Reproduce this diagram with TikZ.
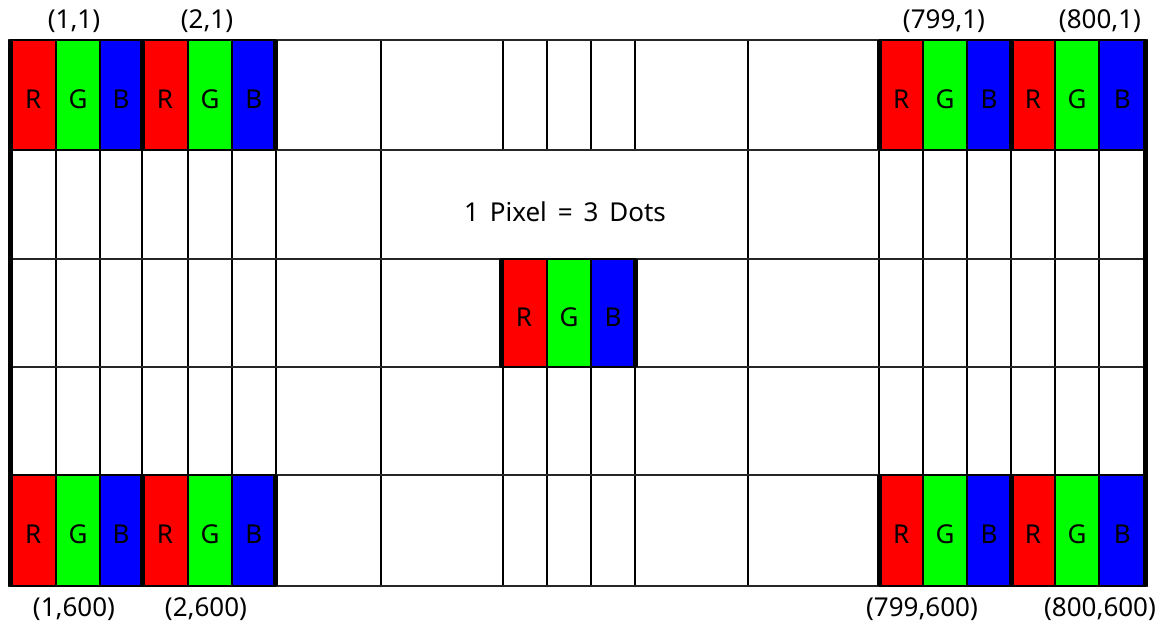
\documentclass[tikz,border=0pt]{standalone}
\usepackage{fontspec}
\setmainfont{Noto Sans}
\definecolor{pxred}{RGB}{255,0,0}
\definecolor{pxgreen}{RGB}{0,255,0}
\definecolor{pxblue}{RGB}{0,0,255}
\begin{document}
\begin{tikzpicture}[x=1pt,y=-1pt,
  gridline/.style={line width=1.7pt, black},
  rowline/.style={line width=1.3pt, black!85},
  edgeline/.style={line width=5pt, black},
  sub/.style={draw=black, line width=1.4pt, inner sep=0pt, outer sep=0pt},
  lbl/.style={font=\fontsize{26}{31}\selectfont, inner sep=0pt, text=black}]
\useasboundingbox (0,0) rectangle (1166,625);
\fill[white] (0,0) rectangle (1166,625);

% vertical grid lines running through all five rows
\foreach \x in {56,100,142,188,232,276,381,748,879,923,967,1011,1055,1099}
  \draw[gridline] (\x,40) -- (\x,586);
% the centre columns are interrupted by the caption row
\foreach \x in {503,547,591,635} {
  \draw[gridline] (\x,40) -- (\x,150);
  \draw[gridline] (\x,259) -- (\x,586);
}
% horizontal row separators
\foreach \y in {40,150,259,367,475,586}
  \draw[rowline] (8,\y) -- (1148,\y);

% RGB pixels: name / x positions of the dot borders / top and bottom
\foreach \nm/\xa/\xb/\xc/\xd/\ya/\yb in {
    ptl/10.5/56/100/142/40/150,
    pta/142/188/232/275.5/40/150,
    ptb/879.5/923/967/1011/40/150,
    ptr/1011/1055/1099/1145.5/40/150,
    pbl/10.5/56/100/142/475/586,
    pba/142/188/232/275.5/475/586,
    pbb/879.5/923/967/1011/475/586,
    pbr/1011/1055/1099/1145.5/475/586,
    pmid/501/547/591/635/259/367} {
  \node[sub, fill=pxred, minimum width={(\xb-\xa)*1pt}, minimum height={(\yb-\ya)*1pt}]
    (\nm-r) at ({(\xa+\xb)/2},{(\ya+\yb)/2}) {};
  \node[sub, fill=pxgreen, minimum width={(\xc-\xb)*1pt}, minimum height={(\yb-\ya)*1pt}]
    (\nm-g) at ({(\xb+\xc)/2},{(\ya+\yb)/2}) {};
  \node[sub, fill=pxblue, minimum width={(\xd-\xc)*1pt}, minimum height={(\yb-\ya)*1pt}]
    (\nm-b) at ({(\xc+\xd)/2},{(\ya+\yb)/2}) {};
  \node[lbl] at ([yshift=-4pt]\nm-r.center) {R};
  \node[lbl] at ([yshift=-4pt]\nm-g.center) {G};
  \node[lbl] at ([yshift=-4pt]\nm-b.center) {B};
  \draw[edgeline] (\xa,\ya) -- (\xa,\yb);
  \draw[edgeline] (\xd,\ya) -- (\xd,\yb);
}

% thick outer frame edges
\draw[edgeline] (10.5,40) -- (10.5,586);
\draw[edgeline] (1145.5,40) -- (1145.5,586);

% caption
\node[lbl] (caption) at (565,211.5)
  {1\hspace{0.42em}Pixel\hspace{0.42em}=\hspace{0.42em}3\hspace{0.42em}Dots};

% pixel coordinates
\node[lbl] (c11) at (74,21.5) {(1,1)};
\node[lbl] (c21) at (207,21.5) {(2,1)};
\node[lbl] (c7991) at (944,21.5) {(799,1)};
\node[lbl] (c8001) at (1100,21.5) {(800,1)};
\node[lbl] (c1600) at (74,609) {(1,600)};
\node[lbl] (c2600) at (206,609) {(2,600)};
\node[lbl] (c799600) at (922,609) {(799,600)};
\node[lbl] (c800600) at (1100,609) {(800,600)};
\end{tikzpicture}
\end{document}
